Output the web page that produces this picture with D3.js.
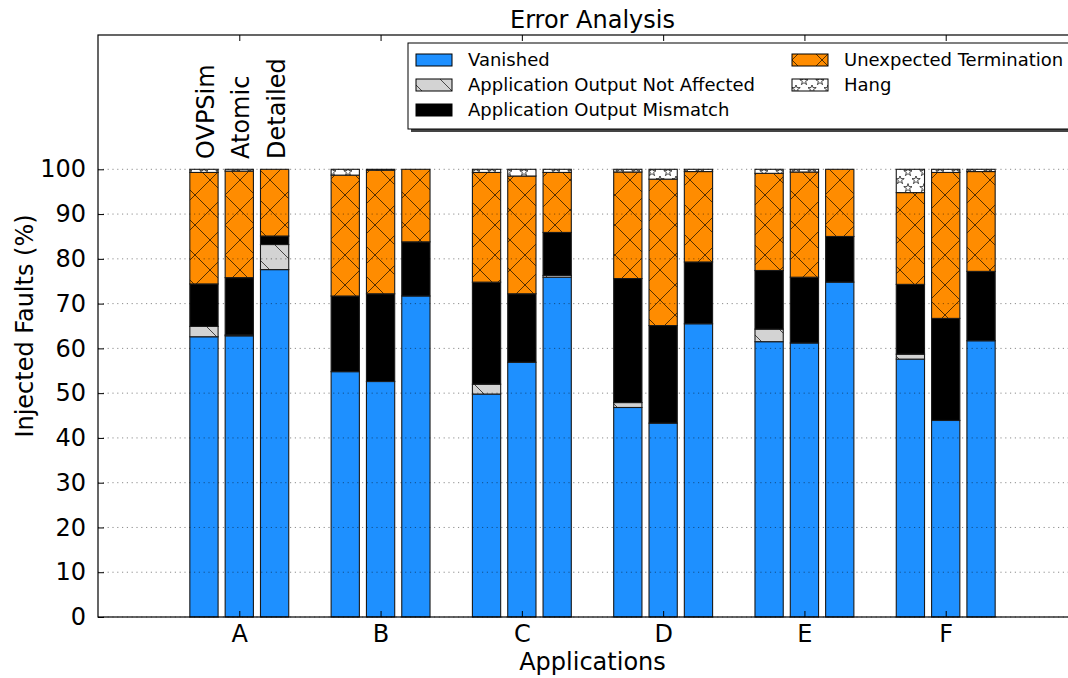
<!DOCTYPE html>
<html lang="en">
<head>
<meta charset="UTF-8">
<title>Error Analysis</title>
<script src="https://d3js.org/d3.v7.min.js"></script>
<style>
    body { margin: 0; background: #fff; }
    svg { display: block; font-family: "DejaVu Sans", sans-serif; }
    .grid line { stroke: #000; stroke-opacity: 0.45; stroke-dasharray: 1.2,3.6; }
</style>
</head>
<body>
<div id="chart"></div>
<script>
    // data, one value per app: [OVPSim, Atomic, Detailed]
    const apps = ["A", "B", "C", "D", "E", "F"];
    const simulators = ["OVPSim", "Atomic", "Detailed"];
    const categories = ["Vanished", "Application Output Not Affected", "Application Output Mismatch",
                        "Unexpected Termination", "Hang"];
    const yTicks = [0, 10, 20, 30, 40, 50, 60, 70, 80, 90, 100];

    const vanished    = [[62.6, 62.8, 77.6], [54.8, 52.6, 71.7], [49.8, 56.9, 75.9],
                         [46.8, 43.3, 65.5], [61.5, 61.2, 74.8], [57.6, 43.9, 61.7]];
    const notAffected = [[2.3, 0.2, 5.6], [0, 0, 0], [2.2, 0, 0.4],
                         [1.1, 0, 0], [2.8, 0, 0], [1.1, 0, 0]];
    const mismatch    = [[9.5, 12.8, 1.9], [16.9, 19.6, 12.1], [22.8, 15.3, 9.6],
                         [27.7, 21.8, 13.8], [13.1, 14.7, 10.2], [15.6, 22.8, 15.5]];
    const unexpected  = [[24.9, 23.8, 14.9], [27.0, 27.6, 16.2], [24.5, 26.3, 13.4],
                         [23.8, 32.7, 20.2], [21.7, 23.5, 15.0], [20.5, 32.6, 22.3]];
    const hang        = [[0.7, 0.4, 0], [1.3, 0.2, 0], [0.7, 1.5, 0.7],
                         [0.6, 2.2, 0.5], [0.9, 0.6, 0], [5.2, 0.7, 0.5]];

    const series = [vanished, notAffected, mismatch, unexpected, hang];
    const fills = ["#1E90FF", "url(#hatchBack)", "#000000", "url(#hatchCross)", "url(#hatchStar)"];
    const barOffsets = [-0.25, 0, 0.25];
    const barWidth = 0.2;

    // one row per bar
    const rows = [];
    apps.forEach((app, i) => {
        simulators.forEach((sim, j) => {
            const r = {app: app, sim: sim, pos: i + barOffsets[j]};
            categories.forEach((c, k) => r[c] = series[k][i][j]);
            rows.push(r);
        });
    });

    const W = 1068, H = 678;
    const plotLeft = 98, plotTop = 35, plotRight = 1087, plotBottom = 617;

    const svg = d3.select("#chart").append("svg")
        .attr("width", W).attr("height", H);

    const x = d3.scaleLinear().domain([-1, 6]).range([plotLeft, plotRight]);
    const y = d3.scaleLinear().domain([0, 130]).range([plotBottom, plotTop]);

    // hatch patterns
    const defs = svg.append("defs");
    const cross = defs.append("pattern").attr("id", "hatchCross")
        .attr("patternUnits", "userSpaceOnUse").attr("width", 30).attr("height", 30);
    cross.append("rect").attr("width", 30).attr("height", 30).attr("fill", "#FF8C00");
    cross.append("path").attr("d", "M0,0L30,30M30,0L0,30")
        .attr("stroke", "#000").attr("stroke-opacity", 0.75).attr("stroke-width", 0.9);

    const back = defs.append("pattern").attr("id", "hatchBack")
        .attr("patternUnits", "userSpaceOnUse").attr("width", 30).attr("height", 30);
    back.append("rect").attr("width", 30).attr("height", 30).attr("fill", "#D3D3D3");
    back.append("path").attr("d", "M0,0L30,30")
        .attr("stroke", "#000").attr("stroke-opacity", 0.75).attr("stroke-width", 0.9);

    const star = defs.append("pattern").attr("id", "hatchStar")
        .attr("patternUnits", "userSpaceOnUse").attr("width", 16).attr("height", 16);
    star.append("rect").attr("width", 16).attr("height", 16).attr("fill", "#fff");
    const starPath = d3.symbol().type(d3.symbolStar).size(22);
    [[4, 4], [12, 12]].forEach(p => {
        star.append("path").attr("d", starPath())
            .attr("transform", `translate(${p[0]},${p[1]})`)
            .attr("fill", "#fff").attr("stroke", "#000").attr("stroke-width", 0.7);
    });

    // bars
    const stacked = d3.stack().keys(categories)(rows);
    const bw = x(barWidth) - x(0);
    const g = svg.append("g");
    g.selectAll("g.layer")
        .data(stacked)
        .join("g")
        .attr("class", "layer")
        .attr("fill", (d, k) => fills[k])
        .selectAll("rect")
        .data(d => d.filter(s => s[1] - s[0] > 0))
        .join("rect")
        .attr("x", d => x(d.data.pos) - bw / 2)
        .attr("y", d => y(d[1]))
        .attr("width", bw)
        .attr("height", d => y(d[0]) - y(d[1]))
        .attr("stroke", "#1a1a1a")
        .attr("stroke-width", 1.1);

    // grid on top of bars
    svg.append("g").attr("class", "grid")
        .selectAll("line")
        .data(yTicks)
        .join("line")
        .attr("x1", plotLeft).attr("x2", plotRight)
        .attr("y1", d => y(d)).attr("y2", d => y(d));

    // frame
    svg.append("rect")
        .attr("x", plotLeft).attr("y", plotTop)
        .attr("width", plotRight - plotLeft).attr("height", plotBottom - plotTop)
        .attr("fill", "none").attr("stroke", "#000").attr("stroke-width", 1.2);

    // axes (ticks pointing inward, mirrored on top)
    const yAxis = svg.append("g")
        .attr("transform", `translate(${plotLeft},0)`)
        .call(d3.axisLeft(y).tickValues(yTicks).tickSizeInner(-6).tickSizeOuter(0).tickPadding(12));
    const xAxis = svg.append("g")
        .attr("transform", `translate(0,${plotBottom})`)
        .call(d3.axisBottom(x).tickValues(d3.range(apps.length)).tickFormat(i => apps[i])
            .tickSizeInner(-6).tickSizeOuter(0).tickPadding(8));
    const xTop = svg.append("g")
        .attr("transform", `translate(0,${plotTop})`)
        .call(d3.axisTop(x).tickValues(d3.range(apps.length)).tickFormat("")
            .tickSizeInner(-6).tickSizeOuter(0));
    [yAxis, xAxis, xTop].forEach(a => {
        a.select(".domain").remove();
        a.selectAll("text").attr("font-size", 24).attr("fill", "#000")
            .attr("font-family", "DejaVu Sans, sans-serif");
        a.selectAll("line").attr("stroke", "#000");
    });

    // simulator labels over the A bars
    svg.append("g").selectAll("text")
        .data(simulators)
        .join("text")
        .attr("transform", (d, j) => `translate(${x(barOffsets[j]) + 10},159) rotate(-90)`)
        .attr("font-size", 24)
        .text(d => d);

    // titles
    svg.append("text")
        .attr("x", (plotLeft + plotRight) / 2).attr("y", 28)
        .attr("text-anchor", "middle").attr("font-size", 24)
        .text("Error Analysis");
    svg.append("text")
        .attr("x", (plotLeft + plotRight) / 2).attr("y", 670)
        .attr("text-anchor", "middle").attr("font-size", 24)
        .text("Applications");
    svg.append("text")
        .attr("transform", `translate(33,${(plotTop + plotBottom) / 2}) rotate(-90)`)
        .attr("text-anchor", "middle").attr("font-size", 24)
        .text("Injected Faults (%)");

    // legend
    const lg = svg.append("g").attr("transform", "translate(408,43)");
    lg.append("rect").attr("x", 3).attr("y", 3).attr("width", 700).attr("height", 86).attr("fill", "#444");
    lg.append("rect").attr("width", 700).attr("height", 86)
        .attr("fill", "#fff").attr("stroke", "#000").attr("stroke-width", 1);
    const legendPos = [[8, 17], [8, 42], [8, 67], [384, 17], [384, 42]];
    const items = lg.selectAll("g.item")
        .data(categories)
        .join("g")
        .attr("class", "item")
        .attr("transform", (d, k) => `translate(${legendPos[k][0]},${legendPos[k][1]})`);
    items.append("rect")
        .attr("y", -6).attr("width", 36).attr("height", 12)
        .attr("fill", (d, k) => fills[k])
        .attr("stroke", "#000").attr("stroke-width", 1);
    items.append("text")
        .attr("x", 52).attr("dy", "0.35em")
        .attr("font-size", 18)
        .text(d => d);
</script>
</body>
</html>
